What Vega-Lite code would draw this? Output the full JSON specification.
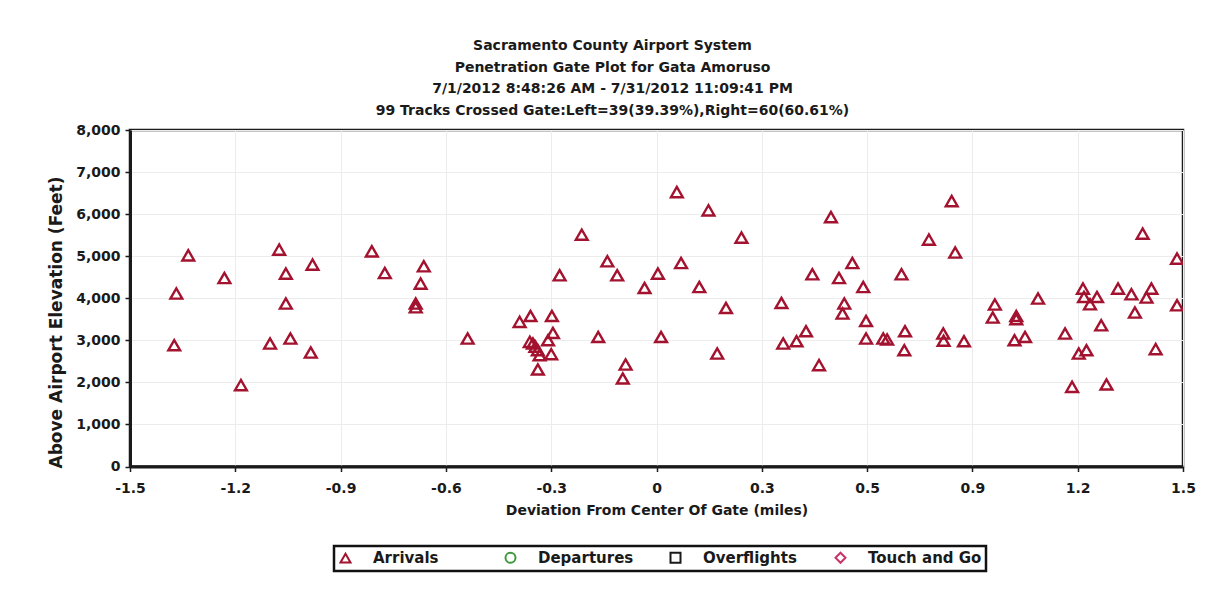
{
  "$schema": "https://vega.github.io/schema/vega-lite/v6.json",
  "autosize": {"type": "none"},
  "width": 1053,
  "height": 336.5,
  "padding": {"left": 130, "top": 130, "right": 23, "bottom": 134.5},
  "background": "white",
  "title": {
    "text": ["Sacramento County Airport System", "Penetration Gate Plot for Gata Amoruso", "7/1/2012 8:48:26 AM - 7/31/2012 11:09:41 PM", "99 Tracks Crossed Gate:Left=39(39.39%),Right=60(60.61%)"],
    "anchor": "middle",
    "dx": -44,
    "offset": 5,
    "font": "DejaVu Sans",
    "fontSize": 14,
    "fontWeight": "bold",
    "lineHeight": 21.7,
    "color": "#1a1a1a"
  },
  "data": {
    "values": [
      {"x": -1.374, "y": 2884, "type": "Arrivals"},
      {"x": -1.368, "y": 4112, "type": "Arrivals"},
      {"x": -1.334, "y": 5021, "type": "Arrivals"},
      {"x": -1.231, "y": 4482, "type": "Arrivals"},
      {"x": -1.184, "y": 1935, "type": "Arrivals"},
      {"x": -1.101, "y": 2925, "type": "Arrivals"},
      {"x": -1.075, "y": 5156, "type": "Arrivals"},
      {"x": -1.056, "y": 4587, "type": "Arrivals"},
      {"x": -1.056, "y": 3874, "type": "Arrivals"},
      {"x": -1.043, "y": 3043, "type": "Arrivals"},
      {"x": -0.985, "y": 2711, "type": "Arrivals"},
      {"x": -0.980, "y": 4800, "type": "Arrivals"},
      {"x": -0.811, "y": 5116, "type": "Arrivals"},
      {"x": -0.774, "y": 4601, "type": "Arrivals"},
      {"x": -0.663, "y": 4760, "type": "Arrivals"},
      {"x": -0.672, "y": 4349, "type": "Arrivals"},
      {"x": -0.686, "y": 3874, "type": "Arrivals"},
      {"x": -0.686, "y": 3787, "type": "Arrivals"},
      {"x": -0.538, "y": 3043, "type": "Arrivals"},
      {"x": -0.390, "y": 3438, "type": "Arrivals"},
      {"x": -0.359, "y": 3580, "type": "Arrivals"},
      {"x": -0.298, "y": 3580, "type": "Arrivals"},
      {"x": -0.361, "y": 2963, "type": "Arrivals"},
      {"x": -0.352, "y": 2925, "type": "Arrivals"},
      {"x": -0.345, "y": 2850, "type": "Arrivals"},
      {"x": -0.338, "y": 2766, "type": "Arrivals"},
      {"x": -0.333, "y": 2647, "type": "Arrivals"},
      {"x": -0.309, "y": 3003, "type": "Arrivals"},
      {"x": -0.295, "y": 3176, "type": "Arrivals"},
      {"x": -0.300, "y": 2671, "type": "Arrivals"},
      {"x": -0.338, "y": 2308, "type": "Arrivals"},
      {"x": -0.276, "y": 4546, "type": "Arrivals"},
      {"x": -0.213, "y": 5512, "type": "Arrivals"},
      {"x": -0.166, "y": 3081, "type": "Arrivals"},
      {"x": -0.140, "y": 4879, "type": "Arrivals"},
      {"x": -0.112, "y": 4546, "type": "Arrivals"},
      {"x": -0.088, "y": 2426, "type": "Arrivals"},
      {"x": -0.096, "y": 2094, "type": "Arrivals"},
      {"x": -0.034, "y": 4245, "type": "Arrivals"},
      {"x": 0.004, "y": 4587, "type": "Arrivals"},
      {"x": 0.013, "y": 3081, "type": "Arrivals"},
      {"x": 0.058, "y": 6524, "type": "Arrivals"},
      {"x": 0.070, "y": 4838, "type": "Arrivals"},
      {"x": 0.148, "y": 6089, "type": "Arrivals"},
      {"x": 0.122, "y": 4268, "type": "Arrivals"},
      {"x": 0.242, "y": 5441, "type": "Arrivals"},
      {"x": 0.198, "y": 3770, "type": "Arrivals"},
      {"x": 0.173, "y": 2687, "type": "Arrivals"},
      {"x": 0.356, "y": 3889, "type": "Arrivals"},
      {"x": 0.361, "y": 2925, "type": "Arrivals"},
      {"x": 0.399, "y": 2979, "type": "Arrivals"},
      {"x": 0.426, "y": 3217, "type": "Arrivals"},
      {"x": 0.463, "y": 2410, "type": "Arrivals"},
      {"x": 0.444, "y": 4570, "type": "Arrivals"},
      {"x": 0.497, "y": 5930, "type": "Arrivals"},
      {"x": 0.520, "y": 4482, "type": "Arrivals"},
      {"x": 0.558, "y": 4838, "type": "Arrivals"},
      {"x": 0.589, "y": 4268, "type": "Arrivals"},
      {"x": 0.535, "y": 3874, "type": "Arrivals"},
      {"x": 0.530, "y": 3637, "type": "Arrivals"},
      {"x": 0.597, "y": 3461, "type": "Arrivals"},
      {"x": 0.597, "y": 3043, "type": "Arrivals"},
      {"x": 0.646, "y": 3043, "type": "Arrivals"},
      {"x": 0.657, "y": 3020, "type": "Arrivals"},
      {"x": 0.708, "y": 3217, "type": "Arrivals"},
      {"x": 0.706, "y": 2766, "type": "Arrivals"},
      {"x": 0.698, "y": 4570, "type": "Arrivals"},
      {"x": 0.776, "y": 5394, "type": "Arrivals"},
      {"x": 0.841, "y": 6310, "type": "Arrivals"},
      {"x": 0.851, "y": 5087, "type": "Arrivals"},
      {"x": 0.817, "y": 3162, "type": "Arrivals"},
      {"x": 0.818, "y": 2991, "type": "Arrivals"},
      {"x": 0.876, "y": 2979, "type": "Arrivals"},
      {"x": 0.964, "y": 3851, "type": "Arrivals"},
      {"x": 0.958, "y": 3542, "type": "Arrivals"},
      {"x": 1.025, "y": 3580, "type": "Arrivals"},
      {"x": 1.025, "y": 3502, "type": "Arrivals"},
      {"x": 1.020, "y": 3003, "type": "Arrivals"},
      {"x": 1.050, "y": 3081, "type": "Arrivals"},
      {"x": 1.087, "y": 3993, "type": "Arrivals"},
      {"x": 1.164, "y": 3162, "type": "Arrivals"},
      {"x": 1.184, "y": 1894, "type": "Arrivals"},
      {"x": 1.203, "y": 2687, "type": "Arrivals"},
      {"x": 1.225, "y": 2766, "type": "Arrivals"},
      {"x": 1.215, "y": 4230, "type": "Arrivals"},
      {"x": 1.218, "y": 4031, "type": "Arrivals"},
      {"x": 1.235, "y": 3858, "type": "Arrivals"},
      {"x": 1.255, "y": 4031, "type": "Arrivals"},
      {"x": 1.267, "y": 3359, "type": "Arrivals"},
      {"x": 1.282, "y": 1951, "type": "Arrivals"},
      {"x": 1.315, "y": 4230, "type": "Arrivals"},
      {"x": 1.353, "y": 4095, "type": "Arrivals"},
      {"x": 1.363, "y": 3661, "type": "Arrivals"},
      {"x": 1.385, "y": 5536, "type": "Arrivals"},
      {"x": 1.410, "y": 4230, "type": "Arrivals"},
      {"x": 1.396, "y": 4017, "type": "Arrivals"},
      {"x": 1.422, "y": 2790, "type": "Arrivals"},
      {"x": 1.483, "y": 4943, "type": "Arrivals"},
      {"x": 1.483, "y": 3834, "type": "Arrivals"}
    ]
  },
  "mark": {"type": "point", "filled": false, "strokeWidth": 2.4, "size": 140, "opacity": 1, "clip": true},
  "encoding": {
    "x": {
      "field": "x", "type": "quantitative",
      "scale": {"domain": [-1.5, 1.5], "nice": false, "zero": false},
      "axis": {
        "title": "Deviation From Center Of Gate (miles)",
        "values": [-1.5, -1.2, -0.9, -0.6, -0.3, 0, 0.3, 0.6, 0.9, 1.2, 1.5],
        "labelExpr": "abs(datum.value-0.6)<0.01 ? '0.5' : (datum.value<0 ? '-' : '') + format(abs(datum.value), '.1~f')",
        "labelPadding": 10,
        "titlePadding": 8,
        "labelFlush": false
      }
    },
    "y": {
      "field": "y", "type": "quantitative",
      "scale": {"domain": [0, 8000], "nice": false},
      "axis": {
        "title": "Above Airport Elevation (Feet)",
        "values": [0, 1000, 2000, 3000, 4000, 5000, 6000, 7000, 8000],
        "format": ",d",
        "labelPadding": 5,
        "titlePadding": 10,
        "titleFontSize": 17,
        "titleY": 192,
        "titleAlign": "center"
      }
    },
    "shape": {
      "field": "type", "type": "nominal",
      "scale": {"domain": ["Arrivals", "Departures", "Overflights", "Touch and Go"], "range": ["triangle-up", "circle", "square", "diamond"]},
      "legend": {"title": null, "orient": "none", "legendX": 204, "legendY": 416, "direction": "horizontal", "columns": 4}
    },
    "color": {
      "field": "type", "type": "nominal",
      "scale": {"domain": ["Arrivals", "Departures", "Overflights", "Touch and Go"], "range": ["#a3122e", "#3f9a3f", "#1a1a1a", "#c8346a"]},
      "legend": {"title": null, "orient": "none", "legendX": 204, "legendY": 416, "direction": "horizontal", "columns": 4}
    }
  },
  "config": {
    "font": "DejaVu Sans",
    "view": {"stroke": "#1a1a1a", "strokeWidth": 2.5},
    "axis": {
      "domainColor": "#1a1a1a",
      "domainWidth": 3,
      "tickColor": "#1a1a1a",
      "tickSize": 5,
      "tickWidth": 1.5,
      "gridColor": "#ececec",
      "gridWidth": 1,
      "labelFont": "DejaVu Sans",
      "labelFontSize": 14,
      "labelFontWeight": "bold",
      "labelColor": "#1a1a1a",
      "titleFont": "DejaVu Sans",
      "titleFontSize": 14,
      "titleFontWeight": "bold",
      "titleColor": "#1a1a1a"
    },
    "legend": {
      "strokeColor": "#111111",
      "strokeWidth": 2.5,
      "padding": 4,
      "gridAlign": "all",
      "columnPadding": 14,
      "symbolSize": 100,
      "symbolStrokeWidth": 2,
      "symbolType": "triangle-up",
      "labelFont": "DejaVu Sans",
      "labelFontSize": 15,
      "labelFontWeight": "bold",
      "labelColor": "#1a1a1a",
      "labelOffset": 20,
      "symbolFillColor": "transparent"
    }
  }
}
